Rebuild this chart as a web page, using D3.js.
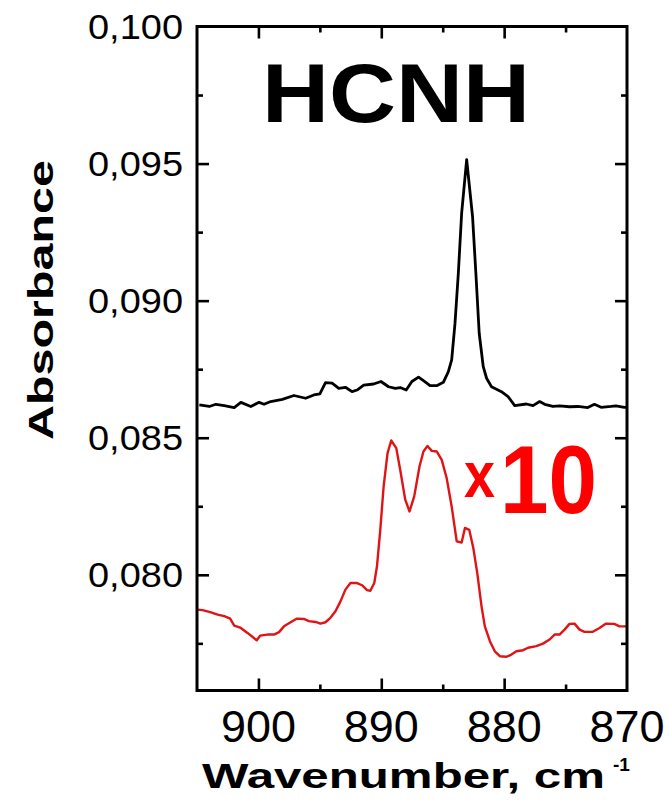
<!DOCTYPE html>
<html>
<head>
<meta charset="utf-8">
<script src="https://cdn.jsdelivr.net/npm/d3@7"></script>
<style>
  html, body { margin: 0; padding: 0; background: #fff; }
  svg { display: block; font-family: Arial, "Liberation Sans", sans-serif; }
</style>
</head>
<body>
<svg id="chart" width="669" height="806"></svg>
<script>
// ---- data ----
const blackWavenumber = [904.81,904.00,903.46,902.78,901.97,901.43,900.62,899.95,899.54,899.00,898.05,897.11,896.16,895.49,895.00,894.54,894.00,893.46,892.92,892.38,891.97,891.43,890.62,890.03,889.41,888.86,888.46,887.97,887.51,886.97,886.57,886.03,885.49,884.95,884.54,884.27,884.00,883.73,883.46,883.05,882.57,882.30,882.03,881.70,881.43,881.03,880.22,879.68,879.14,878.19,877.65,877.11,876.70,876.03,875.49,874.68,874.00,873.19,872.65,872.11,871.30,870.89,870.22,870.00];
const blackAbsorbance = [0.08620,0.08614,0.08622,0.08617,0.08610,0.08629,0.08614,0.08629,0.08622,0.08632,0.08640,0.08654,0.08644,0.08656,0.08660,0.08701,0.08699,0.08680,0.08684,0.08668,0.08674,0.08692,0.08696,0.08705,0.08686,0.08680,0.08683,0.08674,0.08705,0.08721,0.08708,0.08690,0.08690,0.08702,0.08741,0.08784,0.08917,0.09099,0.09318,0.09514,0.09306,0.09099,0.08881,0.08759,0.08717,0.08686,0.08668,0.08650,0.08617,0.08623,0.08617,0.08632,0.08622,0.08614,0.08616,0.08613,0.08614,0.08610,0.08622,0.08611,0.08614,0.08616,0.08611,0.08612];

const redWavenumber = [904.95,904.54,903.86,903.32,902.78,902.30,901.97,901.43,900.89,900.49,900.14,899.86,899.27,898.73,898.32,897.92,897.38,896.89,896.30,895.89,895.35,894.95,894.54,894.14,893.73,893.32,892.92,892.51,891.97,891.57,891.16,890.89,890.57,890.35,890.08,889.81,889.49,889.19,888.78,888.46,888.05,887.70,887.32,886.89,886.57,886.24,885.89,885.49,885.08,884.68,884.27,883.86,883.46,883.19,882.84,882.51,882.19,881.84,881.57,881.16,880.76,880.35,879.81,879.41,879.00,878.46,878.05,877.38,876.84,876.30,875.89,875.49,875.08,874.68,874.27,873.86,873.46,872.78,872.24,871.70,871.03,870.62,870.08];
const redAbsorbance = [0.07873,0.07871,0.07863,0.07855,0.07849,0.07840,0.07815,0.07806,0.07788,0.07774,0.07761,0.07778,0.07782,0.07782,0.07791,0.07812,0.07827,0.07840,0.07839,0.07831,0.07828,0.07822,0.07827,0.07843,0.07867,0.07903,0.07946,0.07970,0.07970,0.07962,0.07944,0.07942,0.07970,0.08031,0.08165,0.08322,0.08444,0.08490,0.08462,0.08383,0.08274,0.08231,0.08286,0.08395,0.08450,0.08470,0.08452,0.08450,0.08419,0.08353,0.08249,0.08122,0.08118,0.08171,0.08164,0.08098,0.08007,0.07885,0.07812,0.07758,0.07721,0.07703,0.07701,0.07709,0.07721,0.07725,0.07734,0.07740,0.07749,0.07764,0.07782,0.07782,0.07800,0.07821,0.07822,0.07800,0.07792,0.07792,0.07806,0.07822,0.07821,0.07812,0.07812];

const xMajorTicks = [900, 890, 880, 870];
const xMinorTicks = [895, 885, 875];
const yMajorTicks = [0.080, 0.085, 0.090, 0.095, 0.100];
const yMinorTicks = [0.0775, 0.0825, 0.0875, 0.0925, 0.0975];
const yTickLabels = ["0,080", "0,085", "0,090", "0,095", "0,100"];
const xTickLabels = ["900", "890", "880", "870"];

// ---- scales ----
const pLeft = 197, pRight = 627, pTop = 26.5, pBottom = 690.5;
const x = d3.scaleLinear().domain([905, 870]).range([pLeft, pRight]);
const y = d3.scaleLinear().domain([0.07578, 0.100]).range([pBottom, pTop]);

const svg = d3.select("#chart");

// lines
const line = d3.line().x(d => x(d[0])).y(d => y(d[1]));
const blackData = blackWavenumber.map((w, i) => [w, blackAbsorbance[i]]);
const redData = redWavenumber.map((w, i) => [w, redAbsorbance[i]]);

svg.append("path").datum(redData).attr("d", line)
  .attr("fill", "none").attr("stroke", "#e01414").attr("stroke-width", 2.4)
  .attr("stroke-linejoin", "round");
svg.append("path").datum(blackData).attr("d", line)
  .attr("fill", "none").attr("stroke", "#000").attr("stroke-width", 2.8)
  .attr("stroke-linejoin", "round");

// axes (ticks inward on all four sides)
const tickStyle = g => {
  g.select(".domain").remove();
  g.selectAll("line").attr("stroke", "#000").attr("stroke-width", 2.6);
};
svg.append("g").attr("transform", `translate(0,${pBottom})`)
  .call(d3.axisBottom(x).tickValues(xMajorTicks.filter(t => t !== 870)).tickSize(-12).tickFormat(""))
  .call(tickStyle);
svg.append("g").attr("transform", `translate(0,${pBottom})`)
  .call(d3.axisBottom(x).tickValues(xMinorTicks).tickSize(-6).tickFormat(""))
  .call(tickStyle);
svg.append("g").attr("transform", `translate(0,${pTop})`)
  .call(d3.axisTop(x).tickValues(xMajorTicks.filter(t => t !== 870)).tickSize(-12).tickFormat(""))
  .call(tickStyle);
svg.append("g").attr("transform", `translate(0,${pTop})`)
  .call(d3.axisTop(x).tickValues(xMinorTicks).tickSize(-6).tickFormat(""))
  .call(tickStyle);
svg.append("g").attr("transform", `translate(${pLeft},0)`)
  .call(d3.axisLeft(y).tickValues(yMajorTicks.filter(t => t !== 0.100)).tickSize(-12).tickFormat(""))
  .call(tickStyle);
svg.append("g").attr("transform", `translate(${pLeft},0)`)
  .call(d3.axisLeft(y).tickValues(yMinorTicks.filter(t => t > 0.07578)).tickSize(-6).tickFormat(""))
  .call(tickStyle);
svg.append("g").attr("transform", `translate(${pRight},0)`)
  .call(d3.axisRight(y).tickValues(yMajorTicks.filter(t => t !== 0.100)).tickSize(-12).tickFormat(""))
  .call(tickStyle);
svg.append("g").attr("transform", `translate(${pRight},0)`)
  .call(d3.axisRight(y).tickValues(yMinorTicks.filter(t => t > 0.07578)).tickSize(-6).tickFormat(""))
  .call(tickStyle);

// frame
svg.append("rect").attr("x", pLeft).attr("y", pTop)
  .attr("width", pRight - pLeft).attr("height", pBottom - pTop)
  .attr("fill", "none").attr("stroke", "#000").attr("stroke-width", 3);

// tick labels
svg.append("g").selectAll("text").data(yMajorTicks).join("text")
  .attr("x", 183).attr("y", d => y(d) + 12.5)
  .attr("text-anchor", "end").attr("font-size", 35)
  .attr("textLength", 95).attr("lengthAdjust", "spacingAndGlyphs")
  .text((d, i) => yTickLabels[i]);
svg.append("g").selectAll("text").data(xMajorTicks).join("text")
  .attr("x", d => x(d)).attr("y", 742)
  .attr("text-anchor", "middle").attr("font-size", 44)
  .attr("textLength", 75).attr("lengthAdjust", "spacingAndGlyphs")
  .text((d, i) => xTickLabels[i]);

// axis titles
svg.append("text").attr("x", 202).attr("y", 788)
  .attr("font-size", 35).attr("font-weight", "bold")
  .attr("textLength", 403).attr("lengthAdjust", "spacingAndGlyphs")
  .text("Wavenumber, cm");
svg.append("text").attr("x", 613).attr("y", 771)
  .attr("font-size", 19).attr("font-weight", "bold")
  .text("-1");
svg.append("text")
  .attr("transform", "translate(53,300) rotate(-90)")
  .attr("text-anchor", "middle")
  .attr("font-size", 35).attr("font-weight", "bold")
  .attr("textLength", 280).attr("lengthAdjust", "spacingAndGlyphs")
  .text("Absorbance");

// annotations
svg.append("text").attr("x", 262).attr("y", 121.5)
  .attr("font-size", 84).attr("font-weight", "bold")
  .attr("textLength", 268).attr("lengthAdjust", "spacingAndGlyphs")
  .text("HCNH");
svg.append("text").attr("x", 464).attr("y", 497)
  .attr("font-size", 64).attr("font-weight", "bold").attr("fill", "#ff0000")
  .attr("textLength", 31).attr("lengthAdjust", "spacingAndGlyphs")
  .text("x");
svg.append("text").attr("x", 500).attr("y", 513)
  .attr("font-size", 96).attr("font-weight", "bold").attr("fill", "#ff0000")
  .attr("textLength", 97).attr("lengthAdjust", "spacingAndGlyphs")
  .text("10");
</script>
</body>
</html>
